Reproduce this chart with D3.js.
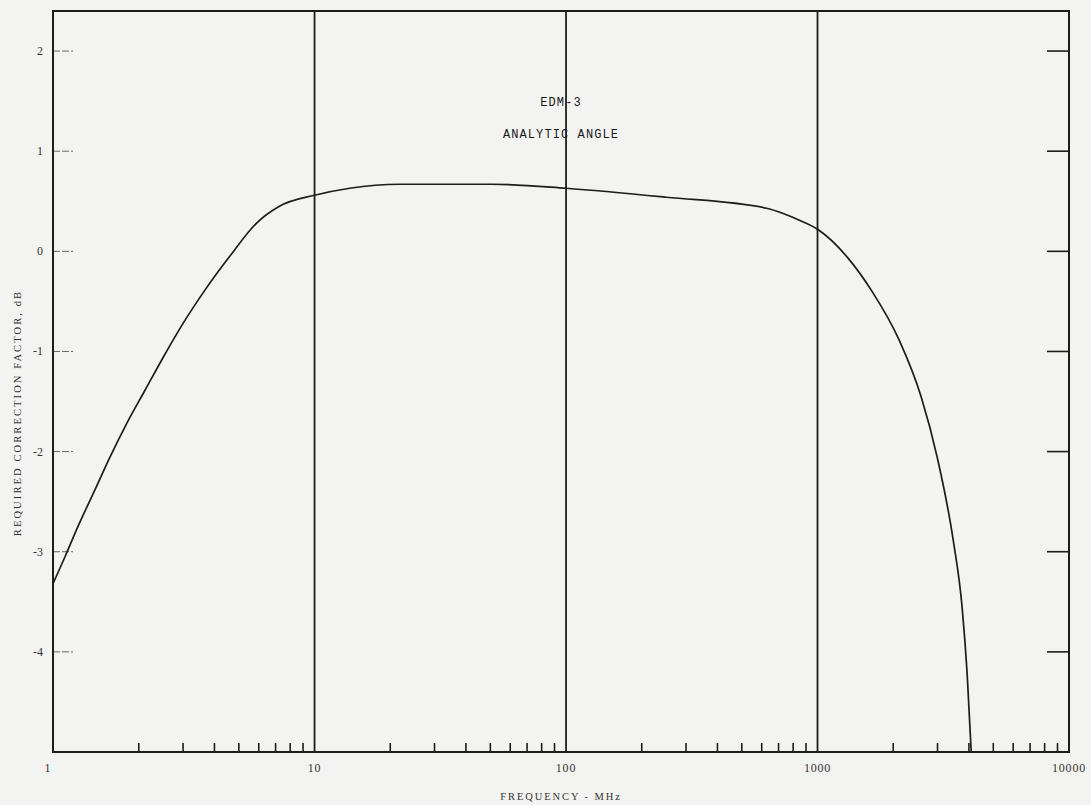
<!DOCTYPE html>
<html>
<head>
<meta charset="utf-8">
<script src="https://cdn.jsdelivr.net/npm/d3@7"></script>
<style>
  html, body { margin: 0; padding: 0; background: #f3f3f1; }
  svg { display: block; }
</style>
</head>
<body>
<svg id="chart" width="1091" height="805"></svg>
<script>
// Frequency response correction curve, EDM-3 analytic angle
const freqMHz = [0.912, 1.018, 1.15, 1.34, 1.54, 1.79, 2.115, 2.5, 3.0, 3.66, 4.6, 5.87, 7.25, 10,
                 13.8, 21.7, 50.9, 100, 250, 627, 726, 847, 1000,
                 1315, 1638, 2115, 2588, 2994, 3467, 3760, 3936, 4085];
const correctionDb = [-3.32, -3.05, -2.74, -2.38, -2.05, -1.72, -1.39, -1.06, -0.72, -0.39, -0.05, 0.28, 0.45, 0.56,
                      0.63, 0.67, 0.67, 0.63, 0.54, 0.43, 0.38, 0.31, 0.22,
                      -0.06, -0.39, -0.89, -1.46, -2.06, -2.89, -3.56, -4.22, -5.0];

const yTickValues = [2, 1, 0, -1, -2, -3, -4];
const yTickLabels = ["2", "1", "0", "-1", "-2", "-3", "-4"];
const decadeValues = [1, 10, 100, 1000, 10000];
const decadeLabels = ["1", "10", "100", "1000", "10000"];
const minorMultipliers = [2, 3, 4, 5, 6, 7, 8, 9];

const titleLines = ["EDM-3", "ANALYTIC ANGLE"];
const xTitle = "FREQUENCY - MHz";
const yTitle = "REQUIRED CORRECTION FACTOR, dB";

(function draw() {
  const svg = d3.select("#chart");
  const ink = "#1c1c1c";
  const textInk = "#333";

  const plotLeft = 53, plotRight = 1069, plotTop = 11, plotBottom = 752;

  // the left frame edge sits a little below 1 MHz
  const x = d3.scaleLog().domain([0.912, 10000]).range([plotLeft, plotRight]);
  const y = d3.scaleLinear().domain([-5, 2.4]).range([plotBottom, plotTop]);

  // vertical decade grid lines (10, 100, 1000)
  svg.append("g").selectAll("line")
    .data(decadeValues.slice(1, -1))
    .join("line")
    .attr("x1", d => x(d)).attr("x2", d => x(d))
    .attr("y1", plotTop).attr("y2", plotBottom)
    .attr("stroke", ink).attr("stroke-width", 1.8);

  // minor ticks along the bottom edge
  const minorTicks = [];
  decadeValues.slice(0, -1).forEach(dec => minorMultipliers.forEach(m => minorTicks.push(dec * m)));
  svg.append("g").selectAll("line")
    .data(minorTicks)
    .join("line")
    .attr("x1", d => x(d)).attr("x2", d => x(d))
    .attr("y1", plotBottom).attr("y2", plotBottom - 9)
    .attr("stroke", ink).attr("stroke-width", 1.6);

  // y ticks: faint on the left, solid on the right
  svg.append("g").selectAll("line")
    .data(yTickValues)
    .join("line")
    .attr("x1", plotLeft).attr("x2", plotLeft + 20)
    .attr("y1", d => y(d)).attr("y2", d => y(d))
    .attr("stroke", "#666").attr("stroke-width", 1)
    .attr("stroke-dasharray", "7,2");
  svg.append("g").selectAll("line")
    .data(yTickValues)
    .join("line")
    .attr("x1", plotRight - 22).attr("x2", plotRight)
    .attr("y1", d => y(d)).attr("y2", d => y(d))
    .attr("stroke", ink).attr("stroke-width", 1.6);

  // frame
  svg.append("rect")
    .attr("x", plotLeft).attr("y", plotTop)
    .attr("width", plotRight - plotLeft).attr("height", plotBottom - plotTop)
    .attr("fill", "none").attr("stroke", ink).attr("stroke-width", 2);

  // curve
  const pts = freqMHz.map((f, i) => [f, correctionDb[i]]);
  const line = d3.line()
    .x(d => x(d[0])).y(d => y(d[1]))
    .curve(d3.curveMonotoneX);
  svg.append("path")
    .attr("d", line(pts))
    .attr("fill", "none")
    .attr("stroke", ink)
    .attr("stroke-width", 1.7);

  // y tick labels
  svg.append("g").selectAll("text")
    .data(yTickValues)
    .join("text")
    .attr("x", 43).attr("y", d => y(d) + 4)
    .attr("text-anchor", "end")
    .attr("font-family", "Liberation Serif, serif")
    .attr("font-size", 12)
    .attr("fill", textInk)
    .text((d, i) => yTickLabels[i]);

  // x decade labels
  svg.append("g").selectAll("text")
    .data(decadeValues)
    .join("text")
    .attr("x", d => d === 1 ? 48 : x(d))
    .attr("y", 772)
    .attr("text-anchor", "middle")
    .attr("font-family", "Liberation Serif, serif")
    .attr("font-size", 12)
    .attr("letter-spacing", 0.8)
    .attr("fill", textInk)
    .text((d, i) => decadeLabels[i]);

  // axis titles
  svg.append("text")
    .attr("x", 561).attr("y", 800)
    .attr("text-anchor", "middle")
    .attr("font-family", "Liberation Serif, serif")
    .attr("font-size", 10.5)
    .attr("letter-spacing", 1.9)
    .attr("fill", textInk)
    .text(xTitle);

  svg.append("text")
    .attr("transform", "translate(21,413) rotate(-90)")
    .attr("text-anchor", "middle")
    .attr("font-family", "Liberation Serif, serif")
    .attr("font-size", 10.5)
    .attr("letter-spacing", 2.1)
    .attr("fill", textInk)
    .text(yTitle);

  // chart caption inside the plot
  svg.append("g").selectAll("text")
    .data(titleLines)
    .join("text")
    .attr("x", 561)
    .attr("y", (d, i) => 106 + i * 32)
    .attr("text-anchor", "middle")
    .attr("font-family", "Liberation Mono, monospace")
    .attr("font-size", 12)
    .attr("letter-spacing", 1.1)
    .attr("fill", "#1a1a1a")
    .text(d => d);
})();
</script>
</body>
</html>
